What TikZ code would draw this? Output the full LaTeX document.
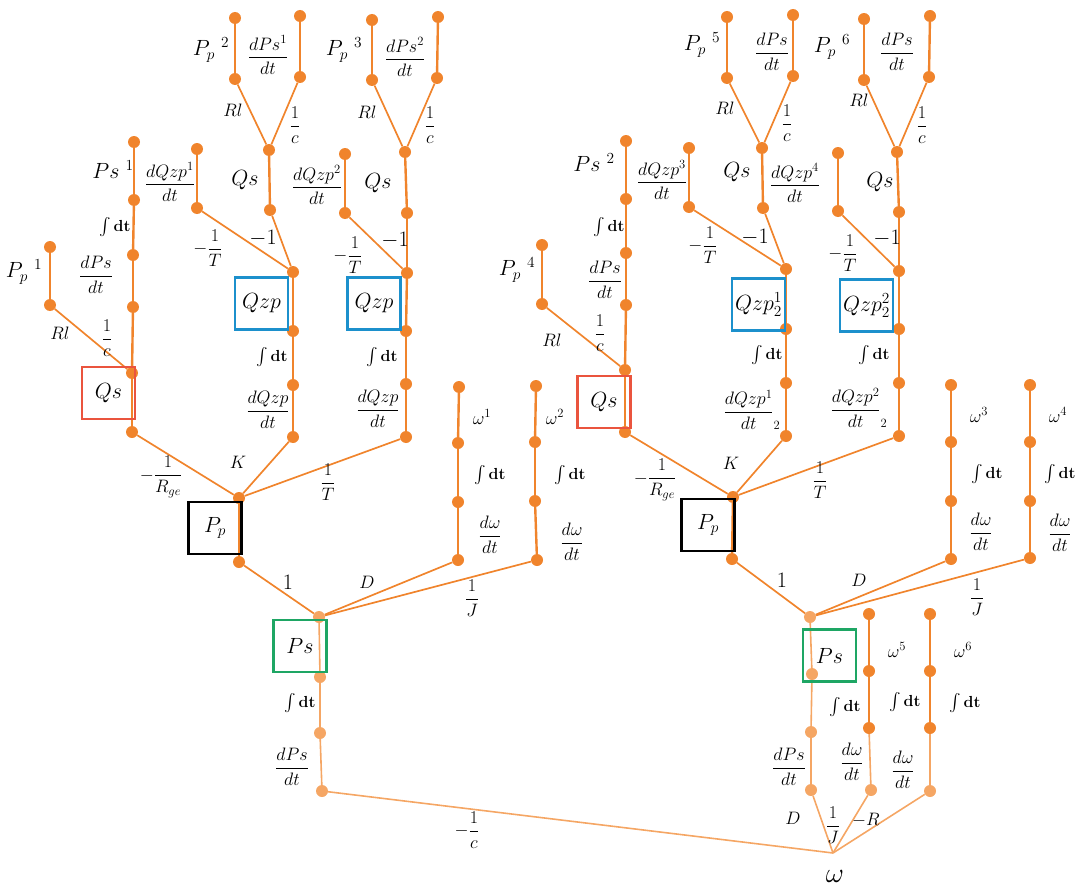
\RequirePackage{fix-cm}
\documentclass[tikz,border=0pt]{standalone}
\usepackage{amsmath}
\definecolor{org}{RGB}{240,132,44}
\definecolor{lorg}{RGB}{245,166,100}
\definecolor{qsred}{RGB}{234,84,62}
\definecolor{qzblue}{RGB}{28,144,204}
\definecolor{psgreen}{RGB}{30,166,100}
\newcommand\Idt{$\int$\,\textbf{dt}}
\tikzset{
  dot/.style={circle, fill=org, inner sep=0pt, minimum size=12pt},
  ldot/.style={circle, fill=lorg, inner sep=0pt, minimum size=12pt},
  wire/.style={draw=org, line width=2.4pt},
  link/.style={draw=org, line width=1.7pt},
  faint/.style={draw=lorg, line width=1.6pt},
  lbl/.style={inner sep=0pt, font=\fontsize{18}{20}\selectfont},
  ilbl/.style={inner sep=0pt, font=\fontsize{16}{18}\selectfont},
  blbl/.style={inner sep=0pt, font=\fontsize{22}{24}\selectfont},
  frame/.style={draw, line width=2.8pt, minimum width=53pt, minimum height=52pt, inner sep=0pt, font=\fontsize{22}{24}\selectfont}
}
\begin{document}
\begin{tikzpicture}[x=1pt,y=-1pt]
\useasboundingbox (0,0) rectangle (1080,891);

% ---------- left half: dots ----------
\foreach \n/\x/\y in {a1/235/18,a2/235/79,a3/300/16,a4/300/77,a5/269/150,a6/270/210,q1/293/272,
  b1/197/149,b2/197/208,q2/293/331,q3/293/385,q4/293/437,
  c1/372/20,c2/372/80,c3/438/17,c4/437/78,c5/405/152,c6/407/213,r1/407/273,
  d1/345/154,d2/345/213,r2/406/331,r3/406/384,r4/406/437,
  e1/134/142,e2/134/200,e3/133/255,e4/133/307,e5/132/373,e6/132/432,
  f1/50/247,f2/50/305,g1/239/498,g2/239/562,
  w1/459/387,w2/458/443,w3/458/502,w4/458/560,
  x1/536/386,x2/535/442,x3/535/501,x4/537/560}
  \node[dot] (\n) at (\x,\y) {};
\foreach \n/\x/\y in {h1/319/617,h2/320/677,h3/320/733,h4/322/791}
  \node[ldot] (\n) at (\x,\y) {};

% ---------- right half: dots ----------
\foreach \n/\x/\y in {i1/727/17,i2/727/78,i3/793/15,i4/793/76,i5/762/148,i6/763/208,s1/786/269,
  j1/689/148,j2/689/207,s2/786/329,s3/786/383,s4/786/436,
  k1/864/19,k2/864/80,k3/930/16,k4/929/77,k5/897/152,k6/899/212,t1/899/271,
  l1/838/153,l2/838/211,t2/899/329,t3/899/383,t4/899/436,
  m1/626/141,m2/626/199,m3/626/253,m4/626/305,m5/625/370,m6/625/432,
  n1/542/245,n2/542/304,o1/733/497,o2/732/559,
  y1/951/385,y2/951/442,y3/951/501,y4/951/559,
  z1/1030/385,z2/1030/442,z3/1030/501,z4/1030/558,
  u1/869/614,u2/869/671,u3/869/728,v1/930/614,v2/930/671,v3/930/728}
  \node[dot] (\n) at (\x,\y) {};
\foreach \n/\x/\y in {p1/810/617,p2/812/674,p3/811/732,p4/811/790,u4/871/790,v4/930/791}
  \node[ldot] (\n) at (\x,\y) {};
\coordinate (om) at (833,853);

% ---------- connectors ----------
\foreach \a/\b in {a1/a2,a3/a4,a5/a6,b1/b2,q1/q2,q2/q3,q3/q4,
  c1/c2,c3/c4,c5/c6,d1/d2,r1/r2,r2/r3,r3/r4,
  e1/e2,e2/e3,e3/e4,e4/e5,e5/e6,f1/f2,g1/g2,
  w1/w2,w2/w3,w3/w4,x1/x2,x2/x3,x3/x4,
  i1/i2,i3/i4,i5/i6,j1/j2,s1/s2,s2/s3,s3/s4,
  k1/k2,k3/k4,k5/k6,l1/l2,t1/t2,t2/t3,t3/t4,
  m1/m2,m2/m3,m3/m4,m4/m5,m5/m6,n1/n2,o1/o2,
  y1/y2,y2/y3,y3/y4,z1/z2,z2/z3,z3/z4,u1/u2,u2/u3,v1/v2,v2/v3}
  \draw[wire] (\a) -- (\b);
\foreach \a/\b in {a2/a5,a4/a5,a6/q1,b2/q1,c2/c5,c4/c5,c6/r1,d2/r1,
  f2/e5,e6/g1,q4/g1,r4/g1,g2/h1,w4/h1,x4/h1,
  i2/i5,i4/i5,i6/s1,j2/s1,k2/k5,k4/k5,k6/t1,l2/t1,
  n2/m5,m6/o1,s4/o1,t4/o1,o2/p1,y4/p1,z4/p1}
  \draw[link] (\a) -- (\b);
\foreach \a/\b in {h1/h2,h2/h3,h3/h4,p1/p2,p2/p3,p3/p4,u3/u4,v3/v4}
  \draw[faint] (\a) -- (\b);
\foreach \a in {h4,p4,u4,v4}
  \draw[faint] (\a) -- (om);

% ---------- framed variables ----------
\node[frame, draw=qzblue] (QZ1) at (261.5,303.5) {$Qzp$};
\node[frame, draw=qzblue] (QZ2) at (374,303.5) {$Qzp$};
\node[frame, draw=qsred] (QS1) at (108.5,393) {$Qs$};
\node[frame, draw=black] (PP1) at (215,528) {$P_p$};
\node[frame, draw=psgreen] (PS1) at (300,646) {$Ps$};
\node[frame, draw=qzblue] (QZ3) at (758.5,304.5) {$Qzp^{1}_{2}$};
\node[frame, draw=qzblue] (QZ4) at (866.5,305.5) {$Qzp^{2}_{2}$};
\node[frame, draw=qsred] (QS2) at (604,402) {$Qs$};
\node[frame, draw=black] (PP2) at (708,525) {$P_p$};
\node[frame, draw=psgreen] (PS2) at (829.5,655.5) {$Ps$};

% ---------- labels, left half ----------
\node[blbl] (L1) at (211,50) {$P_p\;{}^{2}$};
\node[lbl] (L2) at (268,55) {$\dfrac{dPs^{1}}{dt}$};
\node[lbl] (L3) at (233,110) {$Rl$};
\node[lbl] (L4) at (295,125) {$\dfrac{1}{c}$};
\node[blbl] (L5) at (245,180) {$Qs$};
\node[lbl] (L6) at (170,182) {$\dfrac{dQzp^{1}}{dt}$};
\node[lbl] (L7) at (208,248) {$-\dfrac{1}{T}$};
\node[blbl] (L8) at (263,238) {$-1$};
\node[blbl] (L9) at (344,50) {$P_p\;{}^{3}$};
\node[lbl] (L10) at (405,57) {$\dfrac{dPs^{2}}{dt}$};
\node[lbl] (L11) at (367,112) {$Rl$};
\node[lbl] (L12) at (430,125) {$\dfrac{1}{c}$};
\node[blbl] (L13) at (378,183) {$Qs$};
\node[lbl] (L14) at (317,185) {$\dfrac{dQzp^{2}}{dt}$};
\node[lbl] (L15) at (348,255) {$-\dfrac{1}{T}$};
\node[blbl] (L16) at (395,240) {$-1$};
\node[ilbl] (L17) at (272,357) {\Idt};
\node[lbl] (L18) at (268,410) {$\dfrac{dQzp}{dt}$};
\node[ilbl] (L19) at (382,357) {\Idt};
\node[lbl] (L20) at (378,409) {$\dfrac{dQzp}{dt}$};
\node[blbl] (L21) at (113,170) {$Ps\;{}^{1}$};
\node[ilbl] (L22) at (115,227) {\Idt};
\node[lbl] (L23) at (96,275) {$\dfrac{dPs}{dt}$};
\node[blbl] (L24) at (24,272) {$P_p\;{}^{1}$};
\node[lbl] (L25) at (60,333) {$Rl$};
\node[lbl] (L26) at (107,338) {$\dfrac{1}{c}$};
\node[lbl] (L27) at (161,477) {$-\dfrac{1}{R_{ge}}$};
\node[lbl] (L28) at (238,462) {$K$};
\node[lbl] (L29) at (328,482) {$\dfrac{1}{T}$};
\node[blbl] (L30) at (288,582) {$1$};
\node[lbl] (L31) at (367,582) {$D$};
\node[lbl] (L32) at (472,598) {$\dfrac{1}{J}$};
\node[lbl] (L33) at (482,417) {$\omega^{1}$};
\node[ilbl] (L34) at (490,475) {\Idt};
\node[lbl] (L35) at (490,535) {$\dfrac{d\omega}{dt}$};
\node[lbl] (L36) at (555,417) {$\omega^{2}$};
\node[ilbl] (L37) at (570,475) {\Idt};
\node[lbl] (L38) at (572,542) {$\dfrac{d\omega}{dt}$};
\node[ilbl] (L39) at (300,703) {\Idt};
\node[lbl] (L40) at (292,767) {$\dfrac{dPs}{dt}$};
\node[lbl] (L41) at (467,830) {$-\dfrac{1}{c}$};

% ---------- labels, right half ----------
\node[blbl] (R1) at (702,45) {$P_p\;{}^{5}$};
\node[lbl] (R2) at (772,52) {$\dfrac{dPs}{dt}$};
\node[lbl] (R3) at (725,108) {$Rl$};
\node[lbl] (R4) at (787,123) {$\dfrac{1}{c}$};
\node[blbl] (R5) at (737,172) {$Qs$};
\node[lbl] (R6) at (662,180) {$\dfrac{dQzp^{3}}{dt}$};
\node[lbl] (R7) at (703,245) {$-\dfrac{1}{T}$};
\node[blbl] (R8) at (755,237) {$-1$};
\node[blbl] (R9) at (832,47) {$P_p\;{}^{6}$};
\node[lbl] (R10) at (897,52) {$\dfrac{dPs}{dt}$};
\node[lbl] (R11) at (859,100) {$Rl$};
\node[lbl] (R12) at (922,125) {$\dfrac{1}{c}$};
\node[blbl] (R13) at (880,182) {$Qs$};
\node[lbl] (R14) at (795,183) {$\dfrac{dQzp^{4}}{dt}$};
\node[lbl] (R15) at (843,253) {$-\dfrac{1}{T}$};
\node[blbl] (R16) at (887,238) {$-1$};
\node[blbl] (R17) at (594,163) {$Ps\;{}^{2}$};
\node[ilbl] (R18) at (609,227) {\Idt};
\node[lbl] (R19) at (605,280) {$\dfrac{dPs}{dt}$};
\node[blbl] (R20) at (517,270) {$P_p\;{}^{4}$};
\node[lbl] (R21) at (552,340) {$Rl$};
\node[lbl] (R22) at (600,333) {$\dfrac{1}{c}$};
\node[ilbl] (R23) at (767,355) {\Idt};
\node[lbl] (R24) at (752,410) {$\dfrac{dQzp^{1}}{dt}_{2}$};
\node[ilbl] (R25) at (874,355) {\Idt};
\node[lbl] (R26) at (859,408) {$\dfrac{dQzp^{2}}{dt}_{2}$};
\node[lbl] (R27) at (655,480) {$-\dfrac{1}{R_{ge}}$};
\node[lbl] (R28) at (731,463) {$K$};
\node[lbl] (R29) at (820,480) {$\dfrac{1}{T}$};
\node[blbl] (R30) at (782,580) {$1$};
\node[lbl] (R31) at (859,580) {$D$};
\node[lbl] (R32) at (977,597) {$\dfrac{1}{J}$};
\node[lbl] (R33) at (979,415) {$\omega^{3}$};
\node[ilbl] (R34) at (987,474) {\Idt};
\node[lbl] (R35) at (981,532) {$\dfrac{d\omega}{dt}$};
\node[lbl] (R36) at (1058,415) {$\omega^{4}$};
\node[ilbl] (R37) at (1060,474) {\Idt};
\node[lbl] (R38) at (1060,533) {$\dfrac{d\omega}{dt}$};
\node[lbl] (R39) at (897,650) {$\omega^{5}$};
\node[lbl] (R40) at (963,650) {$\omega^{6}$};
\node[ilbl] (R41) at (845,707) {\Idt};
\node[ilbl] (R42) at (905,702) {\Idt};
\node[ilbl] (R43) at (965,703) {\Idt};
\node[lbl] (R44) at (789,767) {$\dfrac{dPs}{dt}$};
\node[lbl] (R45) at (852,762) {$\dfrac{d\omega}{dt}$};
\node[lbl] (R46) at (903,770) {$\dfrac{d\omega}{dt}$};
\node[lbl] (R47) at (793,818) {$D$};
\node[lbl] (R48) at (833,825) {$\dfrac{1}{J}$};
\node[lbl] (R49) at (866,820) {$-R$};
\node[inner sep=0pt, font=\fontsize{28}{30}\selectfont] (OM) at (835,876) {$\omega$};
\end{tikzpicture}
\end{document}
